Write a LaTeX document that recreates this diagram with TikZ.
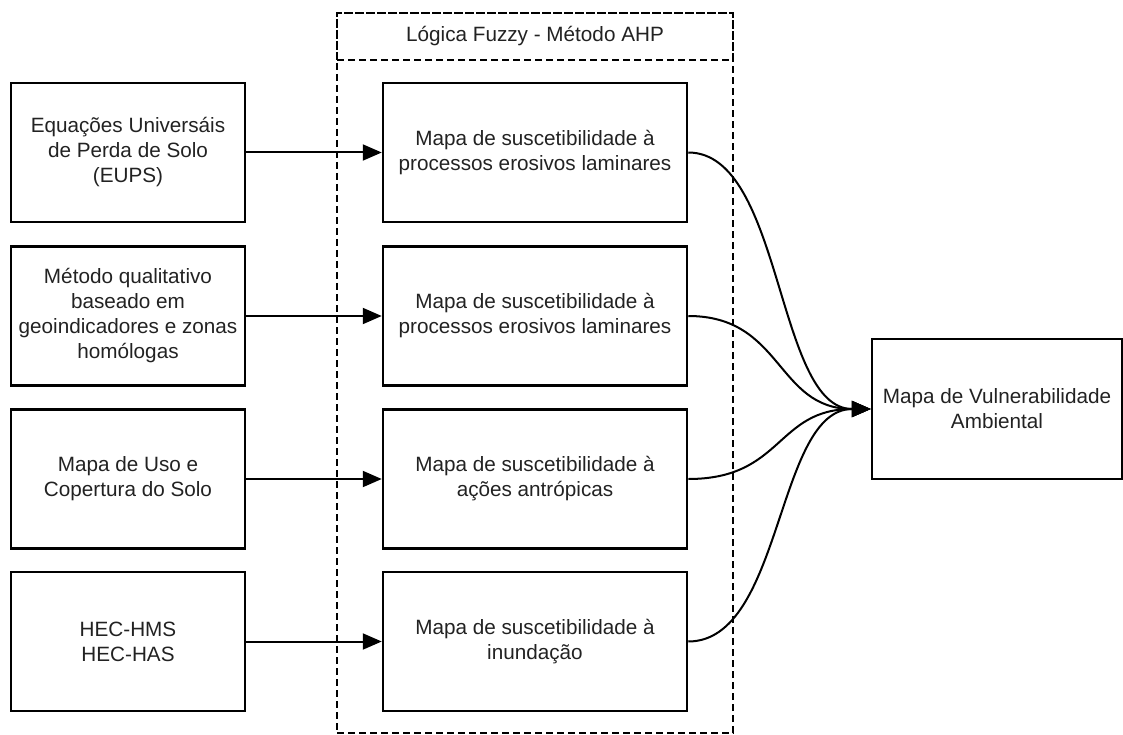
\documentclass[tikz,border=0pt]{standalone}
\usepackage{fontspec}
\setmainfont{Liberation Sans}
\usetikzlibrary{arrows.meta}
\definecolor{txt}{HTML}{222222}
\begin{document}
\begin{tikzpicture}[x=1pt,y=-1pt,
  box/.style={draw=black,line width=2.5pt,rectangle,align=center,text=txt,
    font=\fontsize{20.7}{25}\selectfont,inner sep=0pt},
  lbox/.style={box,minimum width=234pt,minimum height=139pt},
  mbox/.style={box,minimum width=304pt,minimum height=139pt},
  dashbox/.style={draw=black,line width=2pt,dash pattern=on 7pt off 4pt,rectangle,
    minimum width=396pt,text=txt,font=\fontsize{20.7}{25}\selectfont,inner sep=0pt},
  arr/.style={line width=2pt,-{Triangle[length=19pt,width=16pt]}}]
\useasboundingbox (0,0) rectangle (1123,735);
% container
\node[dashbox,minimum height=720pt] (cont) at (535,373) {};
\node[dashbox,minimum height=47pt] (hdr) at (535,36.5) {Lógica Fuzzy - Método AHP};
% left boxes
\node[lbox] (l1) at (128,152.5) {Equações Universáis\\de Perda de Solo\\(EUPS)};
\node[lbox] (l2) at (128,316) {Método qualitativo\\baseado em\\geoindicadores e zonas\\homólogas};
\node[lbox] (l3) at (128,479) {Mapa de Uso e\\Copertura do Solo};
\node[lbox] (l4) at (128,641.5) {HEC-HMS\\HEC-HAS};
% middle boxes
\node[mbox] (m1) at (535,152.5) {Mapa de suscetibilidade à\\processos erosivos laminares};
\node[mbox] (m2) at (535,316) {Mapa de suscetibilidade à\\processos erosivos laminares};
\node[mbox] (m3) at (535,479) {Mapa de suscetibilidade à\\ações antrópicas};
\node[mbox] (m4) at (535,641.5) {Mapa de suscetibilidade à\\inundação};
% right box
\node[box,minimum width=250pt,minimum height=140pt] (r) at (997,409) {Mapa de Vulnerabilidade\\Ambiental};
% straight arrows
\foreach \i in {1,2,3,4}{\draw[arr] (l\i.east) -- (m\i.west);}
% curved arrows
\foreach \i in {1,2,3,4}{\draw[arr] (m\i.east) .. controls +(95,0) and +(-95,0) .. (r.west);}
\end{tikzpicture}
\end{document}
